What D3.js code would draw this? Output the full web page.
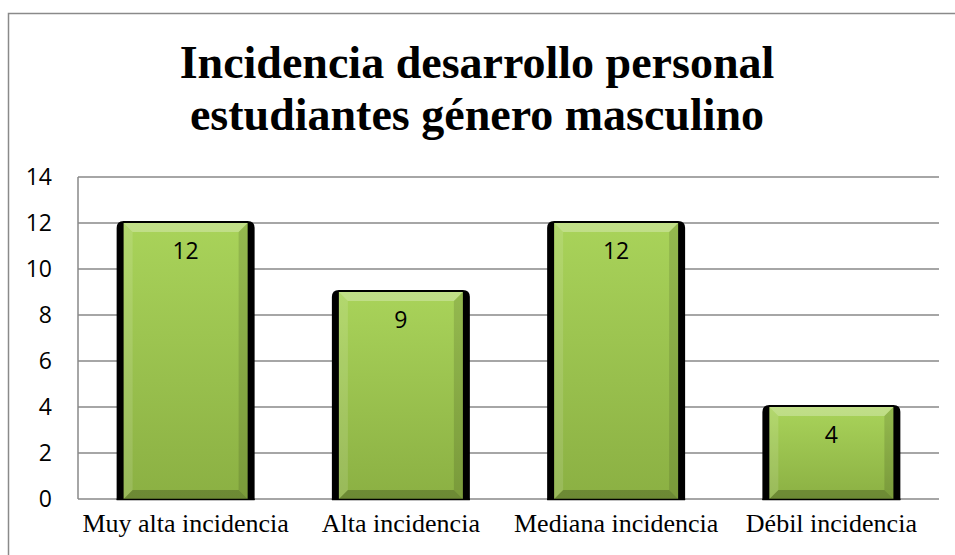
<!DOCTYPE html>
<html><head><meta charset="utf-8">
<script src="https://cdn.jsdelivr.net/npm/d3@7"></script>
<style>body{margin:0;background:#fff}svg{display:block}</style>
</head><body>
<script>
const categories = ["Muy alta incidencia", "Alta incidencia", "Mediana incidencia", "Débil incidencia"];
const values = [12, 9, 12, 4];
const yTicks = [0, 2, 4, 6, 8, 10, 12, 14];
const titleLines = ["Incidencia desarrollo personal", "estudiantes género masculino"];

const W = 955, H = 555;
const svg = d3.select("body").append("svg").attr("width", W).attr("height", H);
const m = {left: 78, right: 939, top: 177, bottom: 499};

const defs = svg.append("defs");
const g1 = defs.append("linearGradient").attr("id", "face").attr("x1", 0).attr("y1", 0).attr("x2", 0).attr("y2", 1);
g1.append("stop").attr("offset", "0%").attr("stop-color", "#a9d35a");
g1.append("stop").attr("offset", "100%").attr("stop-color", "#8bb043");

// outer border (only left & top visible)
svg.append("rect").attr("x", 8.5).attr("y", 13.5).attr("width", 960).attr("height", 560)
  .attr("fill", "none").attr("stroke", "#8a8a8a").attr("stroke-width", 1.5);

// title
const title = svg.append("text").attr("text-anchor", "middle")
  .attr("font-family", "'Liberation Serif','Times New Roman',serif").attr("font-weight", "bold")
  .attr("font-size", 46).attr("fill", "#000");
titleLines.forEach((t, i) => title.append("tspan").attr("x", 477).attr("y", 78 + i * 52).text(t));

const x = d3.scaleBand().domain(categories).range([m.left, m.right]).paddingInner(0.424).paddingOuter(0.212);
const y = d3.scaleLinear().domain([0, 14]).range([m.bottom, m.top]);

// gridlines
svg.append("g").selectAll("line").data(yTicks).join("line")
  .attr("x1", m.left).attr("x2", m.right)
  .attr("y1", d => y(d)).attr("y2", d => y(d))
  .attr("stroke", "#888").attr("stroke-width", 1.5);
svg.append("line").attr("x1", m.left).attr("x2", m.left).attr("y1", m.top).attr("y2", m.bottom)
  .attr("stroke", "#888").attr("stroke-width", 1.5);

// y axis labels
const yAxis = d3.axisLeft(y).tickValues(yTicks).tickSize(0).tickPadding(26);
const ya = svg.append("g").attr("transform", `translate(${m.left},0)`).call(yAxis);
ya.select(".domain").remove();
ya.selectAll("text").attr("font-family", "'Open Sans','Liberation Sans',sans-serif").attr("font-size", 23).attr("fill", "#000");

// x axis labels
const xAxis = d3.axisBottom(x).tickSize(0).tickPadding(15);
const xa = svg.append("g").attr("transform", `translate(0,${m.bottom})`).call(xAxis);
xa.select(".domain").remove();
xa.selectAll("text").attr("font-family", "'Liberation Serif','Times New Roman',serif").attr("font-size", 26).attr("fill", "#000");

// bars
const bars = svg.append("g").selectAll("g").data(values).join("g");
const bw = x.bandwidth();
bars.each(function(v, i) {
  const gb = d3.select(this);
  const x0 = x(categories[i]), x1 = x0 + bw, yt = y(v), yb = y(0);
  gb.append("path").attr("fill", "#000")
    .attr("d", `M${x0-7},${yb+1} L${x0-7},${yt+5} Q${x0-7},${yt-2} ${x0},${yt-2} L${x1},${yt-2} Q${x1+7},${yt-2} ${x1+7},${yt+5} L${x1+7},${yb+1} Z`);
  gb.append("rect").attr("x", x0).attr("y", yt).attr("width", bw).attr("height", yb - yt).attr("fill", "url(#face)");
  const b = 9;
  gb.append("path").attr("fill", "#ffffff").attr("opacity", 0.28)
    .attr("d", `M${x0},${yt} L${x1},${yt} L${x1-b},${yt+b} L${x0+b},${yt+b} Z`);
  gb.append("path").attr("fill", "#ffffff").attr("opacity", 0.12)
    .attr("d", `M${x0},${yt} L${x0+b},${yt+b} L${x0+b},${yb-b} L${x0},${yb} Z`);
  gb.append("path").attr("fill", "#000").attr("opacity", 0.12)
    .attr("d", `M${x1},${yt} L${x1-b},${yt+b} L${x1-b},${yb-b} L${x1},${yb} Z`);
  gb.append("path").attr("fill", "#000").attr("opacity", 0.22)
    .attr("d", `M${x0},${yb} L${x0+b},${yb-b} L${x1-b},${yb-b} L${x1},${yb} Z`);
  gb.append("line").attr("x1", x0 - 7).attr("x2", x1 + 7).attr("y1", yb + 0.5).attr("y2", yb + 0.5).attr("stroke", "#000").attr("stroke-width", 1.5);
  gb.append("text").attr("x", x0 + bw / 2).attr("y", yt + 36).attr("text-anchor", "middle")
    .attr("font-family", "'Open Sans','Liberation Sans',sans-serif").attr("font-size", 23).attr("fill", "#000").text(v);
});
</script>
</body></html>
